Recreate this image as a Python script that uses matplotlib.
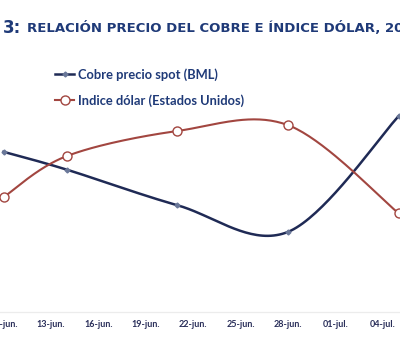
import numpy as np
import pandas as pd
import matplotlib
matplotlib.use("Agg")
import matplotlib.pyplot as plt
from matplotlib.lines import Line2D

# data
fechas = ["2016-06-10", "2016-06-14", "2016-06-21", "2016-06-28", "2016-07-05"]
cobre = [2.18, 2.16, 2.12, 2.09, 2.22]        # US$/lb
dolar = [94.15, 94.92, 95.39, 95.50, 93.85]   # indice
ticks = ["10-jun.", "13-jun.", "16-jun.", "19-jun.", "22-jun.", "25-jun.",
         "28-jun.", "01-jul.", "04-jul."]

t0 = pd.Timestamp(fechas[0])
dias = np.array([(pd.Timestamp(f) - t0).days for f in fechas], dtype=float)

azul = "#1f2a55"
rojo = "#a24640"
navy = "#1f3a78"


def suave(x, y, n=40):
    # Excel-like smoothed line (Catmull-Rom bezier)
    p = np.column_stack([x, y])
    p = np.vstack([p[0], p, p[-1]])
    out = []
    for i in range(1, len(p) - 2):
        p0, p1, p2, p3 = p[i - 1], p[i], p[i + 1], p[i + 2]
        c1 = p1 + (p2 - p0) / 6
        c2 = p2 - (p3 - p1) / 6
        t = np.linspace(0, 1, n)[:, None]
        seg = ((1 - t) ** 3 * p1 + 3 * (1 - t) ** 2 * t * c1
               + 3 * (1 - t) * t ** 2 * c2 + t ** 3 * p2)
        out.append(seg)
    s = np.vstack(out)
    return s[:, 0], s[:, 1]


fig = plt.figure(figsize=(4, 3.61), dpi=100)
ax = fig.add_axes([0, 0.1357, 1, 0.7396])
ax2 = ax.twinx()

xs, ys = suave(dias, np.array(cobre))
ax.plot(xs, ys, color=azul, lw=1.8, clip_on=False, zorder=3)
ax.plot(dias, cobre, ls="none", marker="D", ms=2.5, color="#6a7899",
        clip_on=False, zorder=4)

xs, ys = suave(dias, np.array(dolar))
ax2.plot(xs, ys, color=rojo, lw=1.5, clip_on=False, zorder=3)
ax2.plot(dias, dolar, ls="none", marker="o", ms=6.5, mfc="white",
         mec=rojo, mew=1.0, clip_on=False, zorder=4)

ax.set_xlim(-0.222, 25.09)
ax.set_ylim(2.00, 2.30)
ax2.set_ylim(92, 97)

tick_pos = np.arange(len(ticks)) * 3
ax.set_xticks(tick_pos)
ax.set_xticklabels(ticks, fontsize=6.5, color="#2a2f5a", family="Lato",
                   fontweight="bold")
ax.tick_params(axis="x", length=0, pad=6)
ax.set_yticks([])
ax2.set_yticks([])
for a in (ax, ax2):
    for s in ("top", "left", "right"):
        a.spines[s].set_visible(False)
    a.spines["bottom"].set_color("#ececec")
    a.spines["bottom"].set_linewidth(0.8)

handles = [
    Line2D([], [], color=azul, lw=1.8, marker="D", ms=2.5, mfc="#6a7899",
           mec="#6a7899"),
    Line2D([], [], color=rojo, lw=1.5, marker="o", ms=6.5, mfc="white",
           mec=rojo),
]
leg = fig.legend(handles, ["Cobre precio spot (BML)", "Indice dólar (Estados Unidos)"],
                 loc="upper left", bbox_to_anchor=(55 / 400, 1 - 68 / 361),
                 frameon=False, borderpad=0, borderaxespad=0,
                 handlelength=1.5, handletextpad=0.3, labelspacing=1.05,
                 prop={"family": "Lato", "weight": "bold", "size": 9.3})
for txt in leg.get_texts():
    txt.set_color(navy)

fig.text(3 / 400, 1 - 28 / 361, "3:", fontsize=12, fontweight="bold",
         color=navy, va="center", family="DejaVu Sans")
fig.text(27 / 400, 1 - 28 / 361, "RELACIÓN PRECIO DEL COBRE E ÍNDICE DÓLAR, 2016",
         fontsize=9.5, fontweight="bold", color=navy, va="center",
         family="DejaVu Sans")

fig.savefig("out.png", dpi=100)
